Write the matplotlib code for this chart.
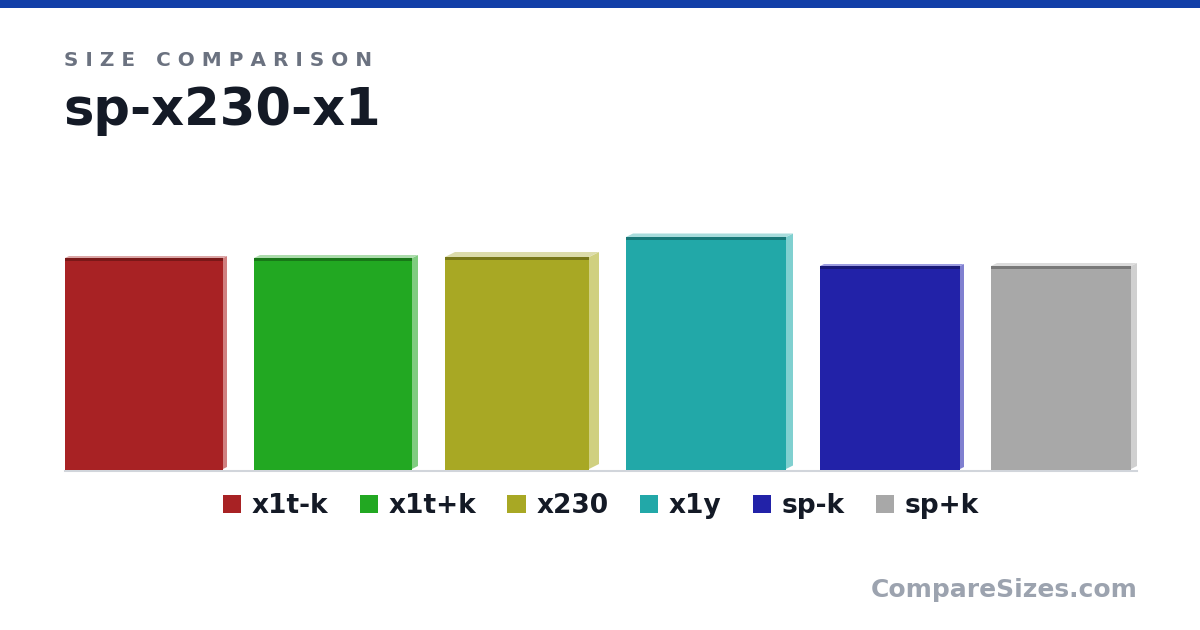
import matplotlib.pyplot as plt
from matplotlib.patches import Polygon, Patch

# camera outlines, in picture units (px)
names = ["x1t-k", "x1t+k", "x230", "x1y", "sp-k", "sp+k"]
widths = [158, 158, 144, 160, 140, 140]
heights = [212, 212, 213, 233, 204, 204]
depths = [4, 6, 10, 7, 4, 6]

front_colors = ["#a82224", "#22a822", "#a8a824", "#22a8a8", "#2222a8", "#a8a8a8"]
side_colors = ["#d08080", "#80cc80", "#d0d080", "#80d0d0", "#8080d0", "#d0d0d0"]
top_colors = ["#dba6a6", "#acdcac", "#dcdcaa", "#a8dcdc", "#9c9ce0", "#dcdcdc"]
edge_colors = ["#7a1818", "#187818", "#787818", "#187878", "#181878", "#787878"]

W, H = 1200, 630
base = H - 470
gap = 27

fig = plt.figure(figsize=(12, 6.3), dpi=100)
ax = fig.add_axes([0, 0, 1, 1])
ax.set_xlim(0, W)
ax.set_ylim(0, H)
ax.axis("off")

# blue strip on top
ax.axhspan(H - 8, H, color="#123fa8", lw=0)

lefts = []
x = 65
for w, d in zip(widths, depths):
    lefts.append(x)
    x = x + w + d + gap

for left, w, h, d, fc, sc, tc, ec in zip(lefts, widths, heights, depths,
                                         front_colors, side_colors, top_colors, edge_colors):
    dy = d / 2
    right = left + w
    top = base + h
    ax.add_patch(Polygon([(right, base + 1), (right, top), (right + d, top + dy), (right + d, base + dy + 1)],
                         closed=True, fc=sc, ec="none", zorder=2))
    ax.add_patch(Polygon([(left, top), (left + d, top + dy), (right + d, top + dy), (right, top)],
                         closed=True, fc=tc, ec="none", zorder=2))
    ax.bar(left, h, w, bottom=base, align="edge", color=fc, lw=0, zorder=3)
    ax.bar(left, 3, w, bottom=top - 3, align="edge", color=ec, lw=0, zorder=4)

ax.plot([65, 1137], [base - 1, base - 1], color="#d1d5db", lw=1.5, zorder=1)

ax.text(64, H - 66, "S I Z E   C O M P A R I S O N", fontsize=14.4, fontweight="bold",
        color="#6b7280", va="baseline", ha="left")
ax.text(63, H - 125, "sp-x230-x1", fontsize=36.8, fontweight="bold",
        color="#141a26", va="baseline", ha="left")
ax.text(1138, H - 597, "CompareSizes.com", fontsize=18, fontweight="bold",
        color="#9ca3af", va="baseline", ha="right")

handles = [Patch(fc=c, ec="none") for c in front_colors]
leg = ax.legend(handles, names, loc="center", bbox_to_anchor=(601 / W, (H - 506) / H),
                ncol=6, frameon=False, handlelength=0.7, handleheight=0.7,
                handletextpad=0.4, columnspacing=1.18, borderpad=0,
                prop={"size": 19, "weight": "bold"})
for t in leg.get_texts():
    t.set_color("#141a26")

fig.savefig("out.png", dpi=100)
